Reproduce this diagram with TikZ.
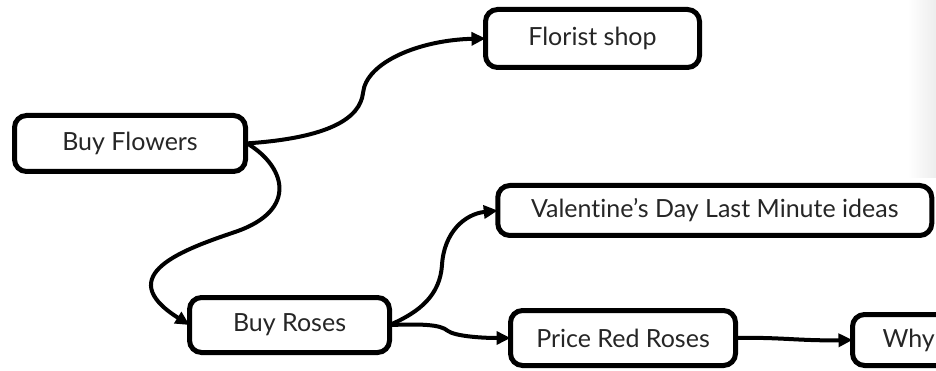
\documentclass[tikz,border=0pt]{standalone}
\usepackage{fontspec}
\setmainfont[Ligatures=NoCommon]{Lato}
\usetikzlibrary{arrows.meta}
\begin{document}
\begin{tikzpicture}[x=1pt,y=-1pt,
  topic/.style={draw=black, line width=5pt, rounded corners=12pt, fill=white,
    inner sep=0pt, outer sep=0pt, text=black!85, font=\fontsize{25}{29}\selectfont},
  link/.style={line width=4pt, -{Triangle[length=14pt,width=13pt]}}]
\useasboundingbox (0,0) rectangle (936,371);
\clip (0,0) rectangle (936,371);
% faint fade at the right edge
\shade[left color=white, right color=black!7] (908,0) rectangle (936,178);

% topics
\node[topic, minimum width=231pt, minimum height=56pt] (bf) at (130,143.5) {Buy Flowers};
\node[topic, minimum width=214pt, minimum height=58pt] (fs) at (592.5,38.5) {Florist shop};
\node[topic, minimum width=434pt, minimum height=50pt] (vd) at (714.75,210.5) {Valentine’s Day Last Minute ideas};
\node[topic, minimum width=200pt, minimum height=55pt] (br) at (289.5,325) {Buy Roses};
\node[topic, minimum width=225pt, minimum height=55pt] (pr) at (623,338) {Price Red Roses};
\node[topic, minimum width=220pt, minimum height=51pt, text width=160pt, inner xsep=30pt,
      align=left, anchor=west] (why) at (852.5,340) {Why};

% connectors
\draw[link] (bf.east) .. controls (330,138) and (360,118) .. (363,93)
  .. controls (366,62) and (420,40) .. (fs.west);
\draw[link] ([yshift=1pt]bf.east) .. controls (285,165) and (300,210) .. (235,232)
  .. controls (185,249) and (110,275) .. (br.west);
\draw[link] (br.east) .. controls (420,312) and (440,295) .. (442,265)
  .. controls (444,232) and (465,214) .. (vd.west);
\draw[link] (br.east) .. controls (420,324) and (440,324) .. (448,331)
  .. controls (455,336) and (480,338) .. (pr.west);
\draw[link] (pr.east) .. controls (780,337) and (800,341) .. (why.west);
\end{tikzpicture}
\end{document}
